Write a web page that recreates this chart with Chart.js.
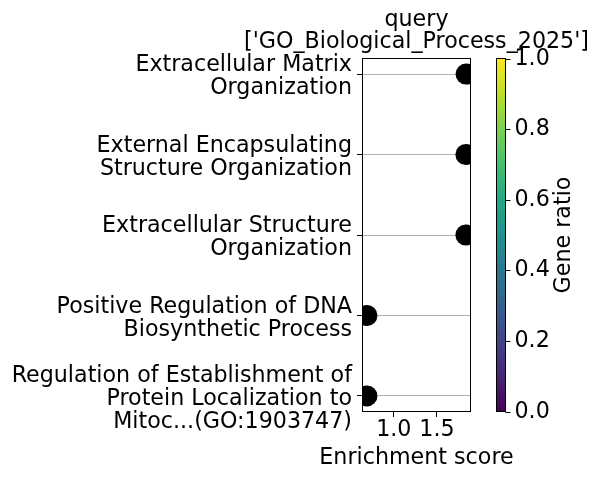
<!DOCTYPE html>
<html>
<head>
<meta charset="utf-8">
<script src="https://cdn.jsdelivr.net/npm/chart.js@4/dist/chart.umd.min.js"></script>
<style>
  html, body { margin: 0; padding: 0; background: #fff; }
</style>
</head>
<body>
<canvas id="dotChart" width="599" height="478"></canvas>
<script>
// data
const terms = [
  ["Extracellular Matrix", "Organization"],
  ["External Encapsulating", "Structure Organization"],
  ["Extracellular Structure", "Organization"],
  ["Positive Regulation of DNA", "Biosynthetic Process"],
  ["Regulation of Establishment of", "Protein Localization to", "Mitoc...(GO:1903747)"]
];
const enrichment = [1.838, 1.836, 1.836, 0.688, 0.688];
const xTicks = [1.0, 1.5];
const colorbarTicks = [0.0, 0.2, 0.4, 0.6, 0.8, 1.0];
const titleLines = ["query", "['GO_Biological_Process_2025']"];

const viridis = ["#440154", "#482475", "#414487", "#355f8d", "#2a788e",
  "#21918c", "#22a884", "#44bf70", "#7ad151", "#bddf26", "#fde725"];

const FONT = "'DejaVu Sans', sans-serif";
const SIZE = 22.2;
Chart.defaults.font.family = FONT;
Chart.defaults.font.size = SIZE;
Chart.defaults.color = "#000";

// frame, titles and colour bar
const extras = {
  id: "extras",
  afterDraw(chart) {
    const { ctx, chartArea: a } = chart;
    ctx.save();
    ctx.strokeStyle = "#000";
    ctx.lineWidth = 1;
    const l = Math.round(a.left) + 0.5, t = Math.round(a.top) + 0.5;
    const r = Math.round(a.right) - 0.5, b = Math.round(a.bottom) - 0.5;
    ctx.strokeRect(l, t, r - l, b - t);

    // title + x axis title
    ctx.font = SIZE + "px " + FONT;
    ctx.fillStyle = "#000";
    ctx.textAlign = "center";
    ctx.textBaseline = "alphabetic";
    const cx = (a.left + a.right) / 2;
    titleLines.forEach((s, i) => ctx.fillText(s, cx, 26 + i * 22.4));
    ctx.fillText("Enrichment score", cx, 463.5);

    // colour bar
    const x0 = 496.5, w = 9;
    const top = t, bot = b;
    const g = ctx.createLinearGradient(0, bot, 0, top);
    viridis.forEach((c, i) => g.addColorStop(i / (viridis.length - 1), c));
    ctx.fillStyle = g;
    ctx.fillRect(x0, top, w, bot - top);
    ctx.strokeRect(x0, top, w, bot - top);
    ctx.textAlign = "left";
    ctx.textBaseline = "middle";
    ctx.fillStyle = "#000";
    colorbarTicks.forEach(v => {
      const y = Math.round(bot - v * (bot - top)) + 0.5;
      ctx.beginPath();
      ctx.moveTo(x0 + w, y);
      ctx.lineTo(x0 + w + 5, y);
      ctx.stroke();
      ctx.fillText(v.toFixed(1), x0 + w + 9, y);
    });
    ctx.translate(564, (top + bot) / 2);
    ctx.rotate(-Math.PI / 2);
    ctx.textAlign = "center";
    ctx.fillText("Gene ratio", 0, 0);
    ctx.restore();
  }
};

new Chart(document.getElementById("dotChart"), {
  type: "scatter",
  data: {
    datasets: [
      {
        data: enrichment.map((v, i) => ({ x: v, y: i })),
        backgroundColor: "#000",
        borderWidth: 0,
        pointRadius: 10.5,
        pointHoverRadius: 10.5,
        clip: 0
      }
    ]
  },
  options: {
    responsive: false,
    animation: false,
    events: [],
    layout: { padding: { left: 0, right: 128, top: 58, bottom: 0 } },
    plugins: { legend: { display: false }, tooltip: { enabled: false } },
    scales: {
      x: {
        type: "linear",
        position: "bottom",
        min: 0.6305,
        max: 1.8955,
        afterBuildTicks: s => { s.ticks = xTicks.map(v => ({ value: v })); },
        afterFit: s => { s.height = 66; },
        ticks: {
          autoSkip: false, maxRotation: 0, padding: 2,
          font: { size: SIZE, lineHeight: 1.0 },
          callback: v => v.toFixed(1)
        },
        grid: { drawOnChartArea: false, tickLength: 5, tickColor: "#000" },
        border: { display: false }
      },
      y: {
        type: "linear",
        reverse: true,
        min: -0.2,
        max: 4.2,
        z: 1,
        afterBuildTicks: s => { s.ticks = terms.map((t, i) => ({ value: i })); },
        afterFit: s => { s.width = 362; },
        ticks: {
          autoSkip: false, padding: 5, labelOffset: 3,
          font: { size: SIZE, lineHeight: 1.03 },
          callback: v => terms[v]
        },
        grid: { color: "#b0b0b0", lineWidth: 1, tickLength: 5, tickColor: "#000" },
        border: { display: false }
      }
    }
  },
  plugins: [extras]
});
</script>
</body>
</html>
